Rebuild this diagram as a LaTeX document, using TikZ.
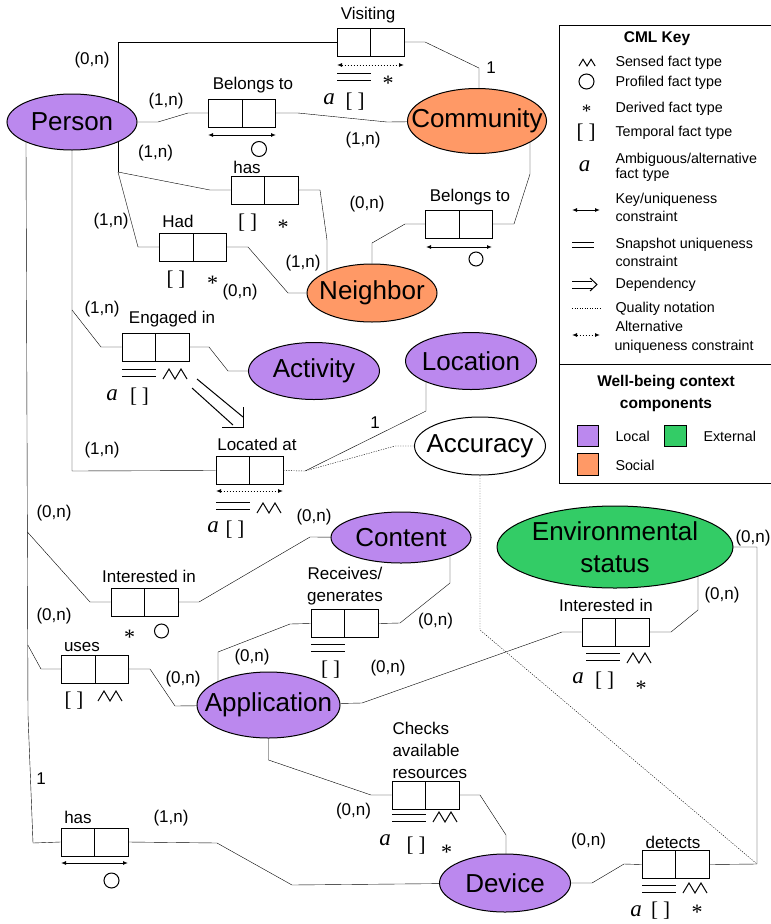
\documentclass[tikz,border=0pt]{standalone}
\usepackage{fontspec}
\setmainfont{Liberation Sans}
\newfontfamily\cmlsym{Liberation Serif}
\usetikzlibrary{shapes.geometric,arrows.meta,backgrounds}
\definecolor{localc}{HTML}{BB88EE}
\definecolor{socialc}{HTML}{FF9966}
\definecolor{extc}{HTML}{33CC66}
\tikzset{
  ent/.style={ellipse, draw, inner xsep=-40pt, inner ysep=-20pt, align=center, font=\fontsize{26}{32}\selectfont},
  fact/.style={draw, fill=white, minimum width=67pt, minimum height=28pt, inner sep=0pt,
    path picture={\draw (path picture bounding box.north) -- (path picture bounding box.south);}},
  lbl/.style={inner sep=0pt, font=\fontsize{17}{22}\selectfont},
  keytxt/.style={inner sep=0pt, anchor=west, font=\fontsize{14.3}{18}\selectfont},
  keyhead/.style={inner sep=0pt, align=center, font=\bfseries\fontsize{15.5}{22}\selectfont},
  sym/.style={inner sep=0pt, font=\cmlsym\fontsize{21}{22}\selectfont},
  amb/.style={inner sep=0pt, font=\cmlsym\itshape\fontsize{23}{24}\selectfont},
  der/.style={inner sep=0pt, font=\cmlsym\fontsize{22}{24}\selectfont, yshift=-4.5pt},
  keycon/.style={{Latex[length=5pt,width=4pt]}-{Latex[length=5pt,width=4pt]}},
  altcon/.style={keycon, dash pattern=on 1.5pt off 1.5pt},
  quality/.style={dash pattern=on 1.2pt off 1.3pt},
  sensed/.pic={\draw (0,0) -- (6,-10) -- (12,0) -- (18,-10) -- (24,0);},
  snapshot/.pic={\draw (0,0) -- (34,0) (0,7) -- (34,7);},
}

\begin{document}
\begin{tikzpicture}[x=1pt, y=-1pt, line width=1pt]
  \useasboundingbox (0,0) rectangle (771,924);

  % entities
  \node[ent, fill=localc, minimum width=130pt, minimum height=56pt] (person) at (72,122) {Person};
  \node[ent, fill=socialc, minimum width=139pt, minimum height=65pt] (community) at (477,121) {Community};
  \node[ent, fill=socialc, minimum width=130pt, minimum height=58pt] (neighbor) at (372,293) {Neighbor};
  \node[ent, fill=localc, minimum width=131pt, minimum height=57pt] (activity) at (314,371) {Activity};
  \node[ent, fill=localc, minimum width=131pt, minimum height=57pt] (location) at (471,361) {Location};
  \node[ent, fill=white, minimum width=131pt, minimum height=58pt] (accuracy) at (480,446) {Accuracy};
  \node[ent, fill=localc, minimum width=140pt, minimum height=51pt] (content) at (401,537.5) {Content};
  \node[ent, fill=extc, minimum width=236pt, minimum height=82pt] (envstatus) at (615,547) {Environmental\\status};
  \node[ent, fill=localc, minimum width=143pt, minimum height=66pt] (application) at (268.5,705) {Application};
  \node[ent, fill=localc, minimum width=131pt, minimum height=58pt] (device) at (505,883) {Device};

  % fact types
  \node[fact] (visiting) at (370.5,42) {};
  \node[fact] (belongsC) at (242,113) {};
  \node[fact] (hasN) at (264.5,190) {};
  \node[fact] (had) at (193,247) {};
  \node[fact] (belongsN) at (459,224) {};
  \node[fact] (engaged) at (155.5,347) {};
  \node[fact] (located) at (249.5,470.5) {};
  \node[fact] (interestContent) at (144.5,602) {};
  \node[fact] (receives) at (344.5,623.5) {};
  \node[fact] (interestEnv) at (615.5,632) {};
  \node[fact] (uses) at (95,669) {};
  \node[fact] (hasDev) at (94.5,842) {};
  \node[fact] (checks) at (425.5,795) {};
  \node[fact] (detects) at (675.5,864.5) {};

  % fact names
  \node[lbl] (visitingName) at (368,15) {Visiting};
  \node[lbl] (belongsCName) at (253,85) {Belongs to};
  \node[lbl] (hasNName) at (247,167) {has};
  \node[lbl] (hadName) at (178,221) {Had};
  \node[lbl] (belongsNName) at (470,197) {Belongs to};
  \node[lbl] (engagedName) at (172,319) {Engaged in};
  \node[lbl] (locatedName) at (257,444) {Located at};
  \node[lbl] (interestContentName) at (149,576) {Interested in};
  \node[lbl, align=center] (receivesName) at (345,586) {Receives/\\generates};
  \node[lbl] (interestEnvName) at (606,605) {Interested in};
  \node[lbl] (usesName) at (82,647) {uses};
  \node[lbl] (hasDevName) at (78,817) {has};
  \node[lbl, align=left, anchor=west] (checksName) at (392,750) {Checks\\available\\resources};
  \node[lbl] (detectsName) at (673,842) {detects};

  % cardinalities
  \node[lbl] (cVisP) at (92,60) {(0,n)};
  \node[lbl] (cVisC) at (491,68) {1};
  \node[lbl] (cBelP) at (166,101) {(1,n)};
  \node[lbl] (cBelC) at (363,140) {(1,n)};
  \node[lbl] (cHasP) at (155.5,153) {(1,n)};
  \node[lbl] (cHasN) at (303,263) {(1,n)};
  \node[lbl] (cHadP) at (111,221) {(1,n)};
  \node[lbl] (cHadN) at (240,292) {(0,n)};
  \node[lbl] (cBelN) at (367,204) {(0,n)};
  \node[lbl] (cEngP) at (102,309) {(1,n)};
  \node[lbl] (cLocP) at (102,450) {(1,n)};
  \node[lbl] (cLocL) at (375,423) {1};
  \node[lbl] (cIntP) at (54,513) {(0,n)};
  \node[lbl] (cIntC) at (314,517) {(0,n)};
  \node[lbl] (cUseP) at (54,616) {(0,n)};
  \node[lbl] (cUseA) at (183,679) {(0,n)};
  \node[lbl] (cRecA) at (252,657) {(0,n)};
  \node[lbl] (cRecC) at (435.5,621) {(0,n)};
  \node[lbl] (cEnvA) at (388,668) {(0,n)};
  \node[lbl] (cEnvE) at (722,595) {(0,n)};
  \node[lbl] (cDetE) at (753,538) {(0,n)};
  \node[lbl] (cDevP) at (41,779) {1};
  \node[lbl] (cDevD) at (171,818) {(1,n)};
  \node[lbl] (cChkA) at (353.5,811) {(0,n)};
  \node[lbl] (cDetD) at (588.5,841) {(0,n)};

  % constraints and fact type marks
  \draw[altcon] (337,65) -- (404,65);
  \pic at (337,73) {snapshot};
  \node[der] (visStar) at (388,79) {*};
  \node[amb] (visA) at (329,99) {a};
  \node[sym] (visT) at (355,102) {[\hspace{5pt}]};

  \draw[keycon] (208,135) -- (276,135);
  \draw (259,149) circle[radius=7.5];

  \node[sym] (hasNT) at (247.5,222.5) {[\hspace{5pt}]};
  \node[der] (hasNStar) at (283,223) {*};
  \node[sym] (hadT) at (176,279.5) {[\hspace{5pt}]};
  \node[der] (hadStar) at (212.5,279) {*};

  \draw[keycon] (426,247) -- (492,247);
  \draw (476,259) circle[radius=7];

  \pic at (122,369) {snapshot};
  \pic at (163,379) {sensed};
  \node[amb] (engA) at (112,395) {a};
  \node[sym] (engT) at (139.5,397) {[\hspace{5pt}]};

  \draw[altcon] (216,491) -- (283,491);
  \pic at (216,502) {snapshot};
  \pic at (257,513) {sensed};
  \node[amb] (locA) at (213,527) {a};
  \node[sym] (locT) at (235,530) {[\hspace{5pt}]};

  \node[der] (intCStar) at (129.5,633) {*};
  \draw (161.5,631) circle[radius=7];

  \pic at (311,644) {snapshot};
  \node[sym] (recT) at (330.5,669.5) {[\hspace{5pt}]};

  \pic at (586,653) {snapshot};
  \pic at (627,663) {sensed};
  \node[amb] (intEA) at (578,678) {a};
  \node[sym] (intET) at (604.5,680.5) {[\hspace{5pt}]};
  \node[der] (intEStar) at (641,683.5) {*};

  \node[sym] (usesT) at (74,700.5) {[\hspace{5pt}]};
  \pic at (98,701) {sensed};

  \draw[keycon] (61,863) -- (128,863);
  \draw (111.5,880.5) circle[radius=7.5];

  \pic at (392,814) {snapshot};
  \pic at (433,822) {sensed};
  \node[amb] (chkA) at (385,840) {a};
  \node[sym] (chkT) at (416,846) {[\hspace{5pt}]};
  \node[der] (chkStar) at (446.5,848) {*};

  \pic at (642,885) {snapshot};
  \pic at (683,893) {sensed};
  \node[amb] (detA) at (636,911) {a};
  \node[sym] (detT) at (660.5,911) {[\hspace{5pt}]};
  \node[der, yshift=3pt] (detStar) at (697,911) {*};

  % dependency
  \draw (197,379) -- (243,417);
  \draw (192,388) -- (233,425);
  \draw (243,407) -- (243,427) -- (222,427);

  % connectors
  \begin{scope}[on background layer]
    \draw (visiting.west) -| (118,172);
    \draw (118,172) -- (210,190) -- (hasN.west);
    \draw (118,172) -- (138,247) -- (had.west);
    \draw (visiting.east) -- (425,42) -- (479,68) |- (community);
    \draw (person) -- (158,122) -- (188,113) -- (belongsC.west);
    \draw (belongsC.east) -- (298,113) -- (387,122) -- (community);
    \draw (hasN.east) -- (320,190) -- (327,240) |- (neighbor);
    \draw (had.east) -- (248,247) -- (288,293) -- (neighbor);
    \draw (neighbor) -- (372,243) -- (405,224) -- (belongsN.west);
    \draw (belongsN.east) -- (514,224) -- (530,174) |- (community);
    \draw (person) -- (72,471) -- (located.west);
    \draw (72,310) -- (101,347) -- (engaged.west);
    \draw (engaged.east) -- (209,347) -- (228,371) -- (activity);
    \draw[quality] (located.east) -- (305,471) -- (395,446) -- (accuracy);
    \draw (305,471) -- (426,411) |- (location);
    \draw[quality] (accuracy) -- (480,630) -- (757,864);
    \draw (person) -| (26,143) -- (28,715) -- (33,843) -- (hasDev.west);
    \draw (27.4,532) -- (90,602) -- (interestContent.west);
    \draw (interestContent.east) -- (199,602) -- (310,537) -- (content);
    \draw (27.8,645) -- (41,669) -- (uses.west);
    \draw (uses.east) -- (150,669) -- (175,706) -- (application);
    \draw (hasDev.east) -- (217,843) -- (292,885) -- (device);
    \draw (receives.west) -- (290,624) -- (218,652) |- (application);
    \draw (receives.east) -- (400,623) -- (450,583) |- (content);
    \draw (interestEnv.west) -- (562,632) -- (362,703) -- (application);
    \draw (interestEnv.east) -- (671,632) -- (698,610) |- (envstatus);
    \draw (envstatus) -- (757,547) -- (757,864) -- (detects.east);
    \draw (application) -- (268.5,760) -- (371,795) -- (checks.west);
    \draw (checks.east) -- (480,795) -- (506,835) |- (device);
    \draw (device) -- (592,883) -- (624,864) -- (detects.west);
  \end{scope}

  % key
  \draw (559,25) rectangle (773,483);
  \draw (559,364) -- (773,364);
  \node[keyhead] (keyTitle) at (657,39) {CML Key};
  \pic[scale=0.67] at (579,66) {sensed};
  \node[keytxt] (kSensed) at (615,62.5) {Sensed fact type};
  \draw (586.5,81.5) circle[radius=7.5];
  \node[keytxt] (kProfiled) at (615,83) {Profiled fact type};
  \node[der, font=\cmlsym\fontsize{19}{20}\selectfont, yshift=1pt] (kStar) at (586.5,108) {*};
  \node[sym] (kT) at (586,133) {[\hspace{5pt}]};
  \node[keytxt] (kDerived) at (615,108.5) {Derived fact type};
  \node[keytxt] (kTemporal) at (615,133) {Temporal fact type};
  \node[amb] (kA) at (584.5,166) {a};
  \node[keytxt] (kAmb1) at (615,160) {Ambiguous/alternative};
  \node[keytxt] (kAmb2) at (615,175) {fact type};
  \draw[keycon] (572,210) -- (600,210);
  \node[keytxt] (kKey1) at (615,200) {Key/uniqueness};
  \node[keytxt] (kKey2) at (615,216) {constraint};
  \draw[line width=0.8pt] (572,242) -- (594,242) (572,247) -- (594,247);
  \node[keytxt] (kSnap1) at (615,244.5) {Snapshot uniqueness};
  \node[keytxt] (kSnap2) at (615,261) {constraint};
  \draw (572,281) -- (592,281) (572,288) -- (592,288);
  \draw (590,278) -- (597,284.5) -- (590,291);
  \node[keytxt] (kDep) at (615,285) {Dependency};
  \draw[quality] (572,308) -- (600,308);
  \node[keytxt] (kQual) at (615,308.5) {Quality notation};
  \draw[altcon] (572,335) -- (600,335);
  \node[keytxt] (kAlt1) at (615,326) {Alternative};
  \node[keytxt] (kAlt2) at (614,346.5) {uniqueness constraint};
  \node[keyhead] (compTitle) at (666,393) {Well-being context\\components};
  \draw[fill=localc] (577,425) rectangle (598,446);
  \node[keytxt] (kLocal) at (615,436.5) {Local};
  \draw[fill=extc] (664,425) rectangle (686,446);
  \node[keytxt] (kExt) at (703,436.5) {External};
  \draw[fill=socialc] (577,453) rectangle (598,475);
  \node[keytxt] (kSocial) at (615,465) {Social};
\end{tikzpicture}
\end{document}
